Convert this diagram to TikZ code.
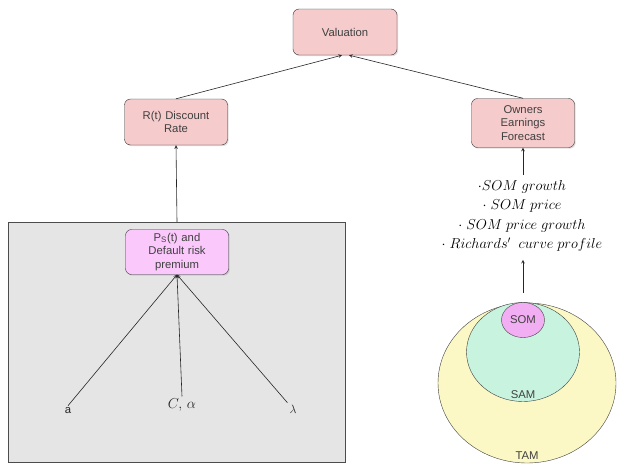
\documentclass[tikz,border=0pt]{standalone}
\usepackage[no-math]{fontspec}
\setmainfont{Liberation Sans}
\usetikzlibrary{shapes.geometric, arrows, positioning, shadows}
\definecolor{boxred}{HTML}{F6CBCB}
\definecolor{boxviolet}{HTML}{FAC8FA}
\definecolor{somviolet}{HTML}{F2AEF2}
\definecolor{samgreen}{HTML}{C8F4DF}
\definecolor{tamyellow}{HTML}{FBF8C6}
\tikzstyle{process} = [rectangle, rounded corners=6pt, minimum width=103pt, minimum height=46pt, text width=95pt, align=center, draw=black!80, fill=boxred, text=black!75, font=\fontsize{11.3}{13.8}\selectfont, drop shadow={shadow xshift=1.2pt, shadow yshift=-1.2pt, opacity=0.25}]
\tikzstyle{market} = [ellipse, inner sep=0pt, draw=black!75]
\tikzstyle{panel} = [rectangle, draw=black!70, fill=gray!20, minimum width=337pt, minimum height=240pt]
\tikzstyle{label} = [inner sep=2pt, text=black!85, font=\fontsize{11.3}{13}\selectfont]
\tikzstyle{arrow} = [->,>=stealth, draw=black!85, line width=0.6pt]

\begin{document}
\begin{tikzpicture}[x=1pt, y=-1pt]
\useasboundingbox (0,0) rectangle (617,463);

% left part: discount rate
\node (panel) [panel] at (176.5,342) {};
\node (val) [process, minimum width=104pt] at (345,32) {Valuation};
\node (rate) [process] at (176,122) {R(t) Discount\\ Rate};
\node (ps) [process, fill=boxviolet, minimum height=45pt] at (177,252) {P\textsubscript{S}(t) and\\ Default risk\\ premium};

\node (a) [label] at (68,411) {a};
\node (calpha) [label, font=\fontsize{14}{16}\selectfont] at (182,405) {$C,\,\alpha$};
\node (lam) [label, font=\fontsize{13}{15}\selectfont] at (293,409) {$\lambda$};

% right part: earnings
\node (owners) [process, minimum height=49pt, text width=80pt] at (523,123) {Owners\\ Earnings\\ Forecast};
\node (drivers) [align=center, inner sep=2pt, font=\fontsize{14}{19.5}\selectfont] at (522,216)
  {$\cdot SOM\ growth$\\ $\cdot\;SOM\ price$\\ $\cdot\;SOM\ price\ growth$\\ $\cdot\;Richards'\ \ curve\ profile$};

\node (tam) [market, fill=tamyellow, minimum width=178pt, minimum height=160pt] at (527,383) {};
\node (sam) [market, fill=samgreen, minimum width=113pt, minimum height=99pt] at (523,352) {};
\node (som) [market, fill=somviolet, minimum width=43pt, minimum height=35pt] at (523,320) {};
\node [label, text=black!75] at (som) {SOM};
\node [label, text=black!75, above=1pt of sam.south] {SAM};
\node [label, text=black!75, above=2pt of tam.south] {TAM};

\draw [arrow] (rate.north) -- ([xshift=-3pt]val.south);
\draw [arrow] (owners.north) -- ([xshift=4pt]val.south);
\draw [arrow] (ps.north |- panel.north) -- (rate.south);
\draw [arrow] (a.north) -- (ps.south);
\draw [arrow] (calpha.north) -- (ps.south);
\draw [arrow] (lam.north west) -- (ps.south);
\draw [arrow, shorten <=3pt] (owners.south |- drivers.north) -- (owners.south);
\draw [arrow, shorten >=6pt] (som.north |- {(523,293)}) -- (som.north |- drivers.south);

\end{tikzpicture}
\end{document}
